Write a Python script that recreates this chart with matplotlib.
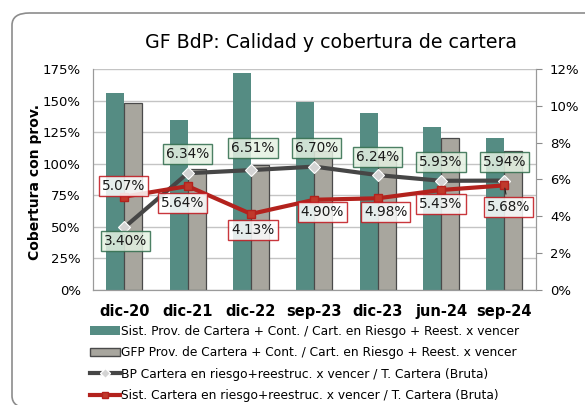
import matplotlib
matplotlib.use('Agg')
import matplotlib.pyplot as plt
import matplotlib.ticker as ticker
from matplotlib.patches import Patch, FancyBboxPatch
from matplotlib.lines import Line2D
import numpy as np

plt.rcParams['font.family'] = ['DejaVu Sans']

# ============================================================
# datos
# ============================================================
categorias = ['dic-20', 'dic-21', 'dic-22', 'sep-23', 'dic-23', 'jun-24', 'sep-24']
sist_cobertura = [156, 135, 172, 149, 140, 129, 120]   # % (eje izq)
gfp_cobertura = [148, 96, 99, 110, 107, 120, 110]      # % (eje izq)
bp_cartera = [3.40, 6.34, 6.51, 6.70, 6.24, 5.93, 5.94]   # % (eje der)
sist_cartera = [5.07, 5.64, 4.13, 4.90, 4.98, 5.43, 5.68]  # % (eje der)

etiquetas = [
    'Sist. Prov. de Cartera + Cont. / Cart. en Riesgo + Reest. x vencer',
    'GFP Prov. de Cartera + Cont. / Cart. en Riesgo + Reest. x vencer',
    'BP Cartera en riesgo+reestruc. x vencer / T. Cartera (Bruta)',
    'Sist. Cartera en riesgo+reestruc. x vencer / T. Cartera (Bruta)',
]

# offsets de las etiquetas (pixeles)
bp_offsets = [(1, -14), (0, 19), (2, 22), (2, 19), (0, 18), (0, 19), (0, 19)]
sist_offsets = [(-1, 11), (-5, -17), (2, -16), (8, -12), (8, -14), (0, -14), (4, -22)]

TEAL = '#558c83'
GRIS = '#a8a69e'
GRIS_OSC = '#464646'
ROJO = '#b3221d'
VERDE_BORDE = '#2f6b4b'

# ============================================================
# gráfico
# ============================================================
fig = plt.figure(figsize=(5.85, 4.05), dpi=100)
fig.patch.set_facecolor('white')

# marco redondeado (sale por la derecha y abajo)
marco = FancyBboxPatch((12 / 585, -3 / 405), 1.2, 1 - 10 / 405,
                       boxstyle='round,pad=0,rounding_size=0.03',
                       transform=fig.transFigure, facecolor='none',
                       edgecolor='#8c8c8c', linewidth=1.2, clip_on=False)
fig.patches.append(marco)

ax = fig.add_axes([92.7 / 585, 1 - 290 / 405, (536 - 92.7) / 585, (290 - 69) / 405])
ax2 = ax.twinx()

x = np.arange(len(categorias))
w = 0.284
ax.bar(x - w / 2, sist_cobertura, w, color=TEAL, zorder=2)
ax.bar(x + w / 2, gfp_cobertura, w, color=GRIS, edgecolor='#4a4a4a', linewidth=0.9, zorder=2)

ax.set_xlim(-0.5, len(categorias) - 0.5)
ax.set_ylim(0, 175)
ax.yaxis.set_major_locator(ticker.MultipleLocator(25))
ax.yaxis.set_major_formatter(ticker.FuncFormatter(lambda v, p: f'{v:.0f}%'))
ax.grid(True, axis='y', color='#c4c4c4', linewidth=1, zorder=0)
ax.set_axisbelow(True)
ax.set_xticks(x)
ax.set_xticklabels(categorias, fontsize=10.5, fontweight='bold')
ax.tick_params(axis='x', length=0, pad=10)
ax.tick_params(axis='y', length=0, labelsize=9.5, pad=8.5)

ax2.plot(x, bp_cartera, color=GRIS_OSC, linewidth=3, marker='D', markersize=6,
         markerfacecolor='#d4d4d4', markeredgecolor='white', markeredgewidth=0.8, zorder=3)
ax2.plot(x, sist_cartera, color=ROJO, linewidth=3, marker='s', markersize=6,
         markerfacecolor='#c0392b', markeredgecolor=ROJO, zorder=4)
ax2.set_ylim(0, 12)
ax2.yaxis.set_major_locator(ticker.MultipleLocator(2))
ax2.yaxis.set_major_formatter(ticker.FuncFormatter(lambda v, p: f'{v:.0f}%'))
ax2.tick_params(axis='y', length=4, color='#8c8c8c', labelsize=9.5, pad=6)

for s in ['left', 'bottom', 'right', 'top']:
    ax.spines[s].set_color('#9a9a9a')
    ax2.spines[s].set_color('#9a9a9a')
ax.spines['top'].set_visible(False)
ax2.spines['top'].set_visible(False)

for i, v in enumerate(bp_cartera):
    ax2.annotate(f'{v:.2f}%', (x[i], v), xytext=bp_offsets[i], textcoords='offset pixels',
                 ha='center', va='center', fontsize=9.8, color='#1a1a1a', zorder=6,
                 bbox=dict(boxstyle='square,pad=0.22', facecolor='#e4f1e2', alpha=0.85,
                           edgecolor=VERDE_BORDE, linewidth=1))
for i, v in enumerate(sist_cartera):
    ap = dict(arrowstyle='-', color='#222222', lw=0.8) if i == len(sist_cartera) - 1 else None
    ax2.annotate(f'{v:.2f}%', (x[i], v), xytext=sist_offsets[i], textcoords='offset pixels',
                 ha='center', va='center', fontsize=9.8, color='#1a1a1a', zorder=6,
                 arrowprops=ap,
                 bbox=dict(boxstyle='square,pad=0.22', facecolor='white', alpha=0.85,
                           edgecolor='#c0141b', linewidth=1))

fig.text(331 / 585, 1 - 43 / 405, 'GF BdP: Calidad y cobertura de cartera',
         ha='center', va='center', fontsize=13.7)
fig.text(35 / 585, 1 - 182 / 405, 'Cobertura con prov.', rotation=90,
         ha='center', va='center', fontsize=10, fontweight='bold')

handles = [
    Patch(facecolor=TEAL),
    Patch(facecolor=GRIS, edgecolor='#4a4a4a'),
    Line2D([], [], color=GRIS_OSC, linewidth=3, marker='D', markersize=5,
           markerfacecolor='#d4d4d4', markeredgecolor='white'),
    Line2D([], [], color=ROJO, linewidth=3, marker='s', markersize=5,
           markerfacecolor='#c0392b', markeredgecolor=ROJO),
]
fig.legend(handles, etiquetas, loc='upper left', bbox_to_anchor=(90 / 585, 1 - 325 / 405),
           frameon=False, fontsize=8.85, handlelength=2.4, handletextpad=0.15,
           labelspacing=0.68, borderaxespad=0, borderpad=0)

fig.savefig('out.png', dpi=100)
